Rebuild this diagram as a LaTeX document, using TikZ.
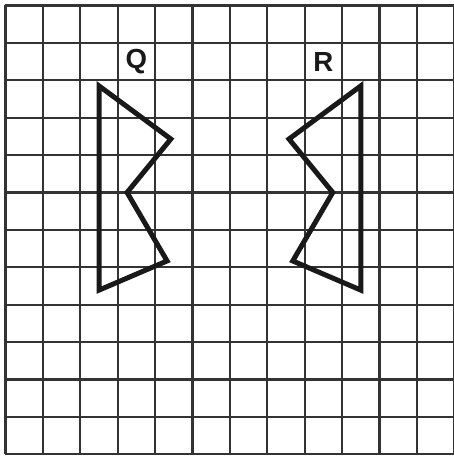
\documentclass[tikz,border=0pt]{standalone}
\usepackage{fontspec}
\setmainfont{Liberation Sans}

\begin{document}
\begin{tikzpicture}[x=1cm,y=1cm,
    gridline/.style={draw=black!80, line width=1.6pt},
    shapeline/.style={draw=black!90, line width=3.8pt, line join=miter},
    shapelabel/.style={font=\fontsize{21}{21}\selectfont\bfseries, text=black!90, inner sep=0pt}]

        \useasboundingbox (-0.147,-0.045) rectangle (11.965,12.147);

        %===========================
        % Grid
        %===========================

        \foreach \i in {0,...,12} {
          \draw[gridline] (\i,0) -- (\i,12);
          \draw[gridline] (0,\i) -- (12,\i);
        }

        %===========================
        % Shapes
        %===========================

        % Left Side
        \draw[shapeline] (2.5,9.85) -- (4.42,8.43) -- (3.25,7.0) -- (4.32,5.17) -- (2.5,4.39) -- cycle;
        \node[shapelabel] (Q) at (3.5,10.5) {Q};

        % Right Side
        \draw[shapeline] (9.5,9.85) -- (7.58,8.43) -- (8.75,7.0) -- (7.68,5.17) -- (9.5,4.39) -- cycle;
        \node[shapelabel] (R) at (8.5,10.5) {R};
\end{tikzpicture}
\end{document}
